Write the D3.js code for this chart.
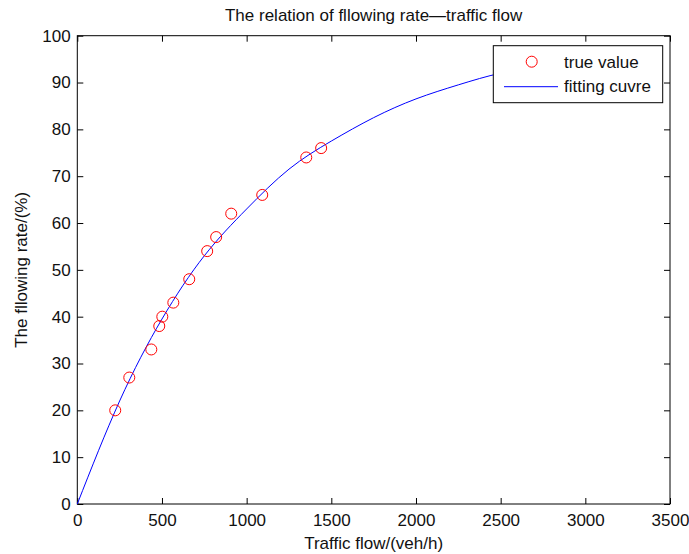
<!DOCTYPE html>
<html>
<head>
<meta charset="utf-8">
<script src="https://cdn.jsdelivr.net/npm/d3@7"></script>
<style>
body { margin: 0; background: #fff; }
text { font-family: "Liberation Sans", Arial, sans-serif; fill: #111; }
</style>
</head>
<body>
<script>
// measured points
var flow = [224, 307, 437, 484, 502, 567, 661, 767, 820, 909, 1092, 1352, 1440];
var rate = [20, 27, 33, 38, 40, 43, 48, 54, 57, 62, 66, 74, 76];

// fitting curve
var fitX = [0, 250, 500, 750, 1000, 1250, 1500, 1750, 2000, 2250, 2500, 2750, 3000];
var fitY = [0, 22, 39.5, 53, 63, 71.5, 77.5, 82.5, 86.5, 89.5, 92, 93.5, 95];

var xTicks = [0, 500, 1000, 1500, 2000, 2500, 3000, 3500];
var yTicks = [0, 10, 20, 30, 40, 50, 60, 70, 80, 90, 100];

var width = 689, height = 554;
var pLeft = 77.3, pRight = 670, pTop = 35.7, pBottom = 504;
var fs = 17;

var svg = d3.select("body").append("svg")
    .attr("width", width)
    .attr("height", height);

var x = d3.scaleLinear().domain([0, 3500]).range([pLeft, pRight]);
var y = d3.scaleLinear().domain([0, 100]).range([pBottom, pTop]);

// axes, ticks pointing inward like matlab
var gx = svg.append("g")
    .attr("transform", "translate(0," + pBottom + ")")
    .call(d3.axisBottom(x).tickValues(xTicks).tickFormat(d3.format("d")).tickSize(-6).tickSizeOuter(0).tickPadding(9.5));
var gy = svg.append("g")
    .attr("transform", "translate(" + pLeft + ",0)")
    .call(d3.axisLeft(y).tickValues(yTicks).tickFormat(d3.format("d")).tickSize(-6).tickSizeOuter(0).tickPadding(6.6));
var gt = svg.append("g")
    .attr("transform", "translate(0," + pTop + ")")
    .call(d3.axisTop(x).tickValues(xTicks).tickSize(-6).tickSizeOuter(0).tickFormat(""));
var gr = svg.append("g")
    .attr("transform", "translate(" + pRight + ",0)")
    .call(d3.axisRight(y).tickValues(yTicks).tickSize(-6).tickSizeOuter(0).tickFormat(""));

[gx, gy, gt, gr].forEach(function (g) {
    g.select(".domain").remove();
    g.selectAll("line").attr("stroke", "#000");
    g.selectAll("text").attr("font-size", fs).attr("font-family", null).style("fill", "#111");
});

svg.append("rect")
    .attr("x", pLeft).attr("y", pTop)
    .attr("width", pRight - pLeft).attr("height", pBottom - pTop)
    .attr("fill", "none").attr("stroke", "#000").attr("stroke-width", 1);

// curve
var fit = fitX.map(function (v, i) { return [v, fitY[i]]; });
svg.append("path")
    .datum(fit)
    .attr("fill", "none")
    .attr("stroke", "#0000ff")
    .attr("stroke-width", 1)
    .attr("d", d3.line()
        .x(function (d) { return x(d[0]); })
        .y(function (d) { return y(d[1]); })
        .curve(d3.curveNatural));

svg.selectAll(".pt")
    .data(flow)
    .enter().append("circle")
    .attr("class", "pt")
    .attr("cx", function (d) { return x(d); })
    .attr("cy", function (d, i) { return y(rate[i]); })
    .attr("r", 5.5)
    .attr("fill", "none")
    .attr("stroke", "#ff0000")
    .attr("stroke-width", 1);

// title and labels
svg.append("text")
    .attr("x", (pLeft + pRight) / 2).attr("y", 20.7)
    .attr("text-anchor", "middle").attr("font-size", fs)
    .text("The relation of fllowing rate\u2014traffic flow");

svg.append("text")
    .attr("x", (pLeft + pRight) / 2).attr("y", 549)
    .attr("text-anchor", "middle").attr("font-size", fs)
    .text("Traffic flow/(veh/h)");

svg.append("text")
    .attr("transform", "translate(27," + ((pTop + pBottom) / 2) + ") rotate(-90)")
    .attr("text-anchor", "middle").attr("font-size", fs)
    .text("The fllowing rate/(%)");

// legend
var lg = svg.append("g");
lg.append("rect")
    .attr("x", 493.3).attr("y", 45.7)
    .attr("width", 169.4).attr("height", 57)
    .attr("fill", "#fff").attr("stroke", "#000");
lg.append("circle")
    .attr("cx", 531.7).attr("cy", 61.7).attr("r", 5.5)
    .attr("fill", "none").attr("stroke", "#ff0000");
lg.append("text").attr("x", 564).attr("y", 68).attr("font-size", fs).text("true value");
lg.append("line")
    .attr("x1", 504).attr("x2", 558).attr("y1", 86.7).attr("y2", 86.7)
    .attr("stroke", "#0000ff");
lg.append("text").attr("x", 564).attr("y", 92).attr("font-size", fs).text("fitting cuvre");
</script>
</body>
</html>
